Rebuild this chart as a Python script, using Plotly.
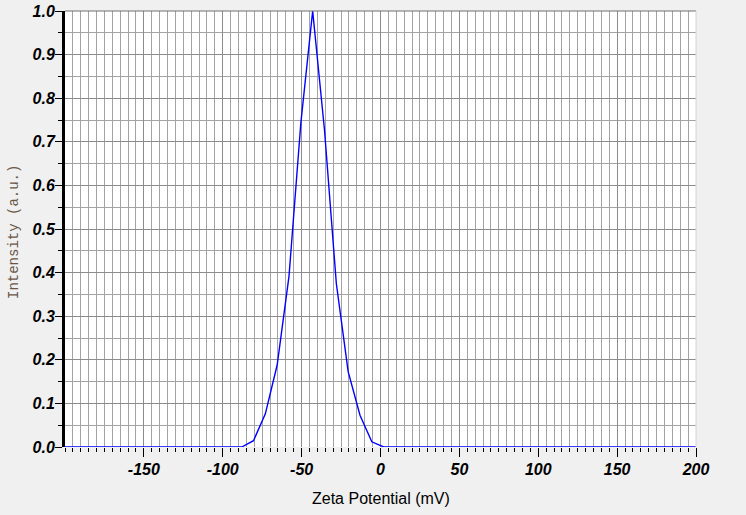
import plotly.graph_objects as go

zeta_mv = [-200, -88, -80.5, -73, -65.5, -58, -50.5, -43, -35.5, -28, -20.5, -13, -5.5, 2, 200]
intensity = [0, 0, 0.0145, 0.076, 0.188, 0.392, 0.743, 1.0, 0.727, 0.375, 0.173, 0.073, 0.012, 0, 0]

x_tickvals = [-150, -100, -50, 0, 50, 100, 150, 200]
x_ticktext = ["-150", "-100", "-50", "0", "50", "100", "150", "200"]
y_tickvals = [0.0, 0.1, 0.2, 0.3, 0.4, 0.5, 0.6, 0.7, 0.8, 0.9, 1.0]
y_ticktext = ["0.0", "0.1", "0.2", "0.3", "0.4", "0.5", "0.6", "0.7", "0.8", "0.9", "1.0"]

tickfont = dict(family="Liberation Sans, Arial, sans-serif", size=16, color="black",
                weight="bold", style="italic")

fig = go.Figure()
fig.add_trace(go.Scatter(x=zeta_mv, y=intensity, mode="lines",
                         line=dict(color="#0000ff", width=1.4), showlegend=False,
                         hoverinfo="skip"))

fig.update_layout(
    width=746, height=515,
    margin=dict(l=65, r=50, t=11, b=68, autoexpand=False),
    paper_bgcolor="#f0f0f0",
    plot_bgcolor="white",
    showlegend=False,
    xaxis=dict(
        range=[-200, 200], automargin=False,
        tickmode="array", tickvals=x_tickvals, ticktext=x_ticktext,
        ticks="outside", ticklen=9, tickwidth=1, tickcolor="black",
        tickfont=tickfont, ticklabelstandoff=-1,
        showgrid=True, gridcolor="#8c8c8c", gridwidth=1,
        showline=False, zeroline=False,
        minor=dict(tickmode="linear", tick0=0, dtick=5, ticks="outside", ticklen=4,
                   tickcolor="black", tickwidth=1, showgrid=True,
                   gridcolor="#a3a3a3", gridwidth=1),
        fixedrange=True,
    ),
    yaxis=dict(
        range=[0, 1.0], automargin=False,
        tickmode="array", tickvals=y_tickvals, ticktext=y_ticktext,
        ticks="outside", ticklen=7, tickwidth=1, tickcolor="black",
        tickfont=tickfont, ticklabelstandoff=-3,
        showgrid=True, gridcolor="#8c8c8c", gridwidth=1,
        showline=True, linecolor="black", linewidth=3,
        zeroline=False,
        minor=dict(tickmode="linear", tick0=0, dtick=0.05, ticks="outside", ticklen=4,
                   tickcolor="black", tickwidth=1, showgrid=True,
                   gridcolor="#a3a3a3", gridwidth=1),
        fixedrange=True,
    ),
    shapes=[
        dict(type="line", xref="paper", yref="paper", x0=0, x1=1, y0=1, y1=1,
             line=dict(color="#707070", width=1)),
        dict(type="line", xref="paper", yref="paper", x0=1, x1=1, y0=0, y1=1,
             line=dict(color="#d4d4d4", width=1)),
    ],
    annotations=[
        dict(text="Zeta Potential (mV)", xref="paper", yref="paper", x=0.5, y=0,
             xanchor="center", yanchor="middle", yshift=-51, showarrow=False,
             font=dict(family="Liberation Sans, Arial, sans-serif", size=16, color="black")),
        dict(text="Intensity (a.u.)", xref="paper", yref="paper", x=0, y=0.5,
             xanchor="center", yanchor="middle", xshift=-51, yshift=-3, textangle=-90,
             showarrow=False,
             font=dict(family="Liberation Mono, Courier New, monospace", size=14,
                       color="#6a5646")),
    ],
)

fig.write_html("out.html", config={"displayModeBar": False},
               post_script="document.body.style.margin='0';document.body.style.overflow='hidden';")
